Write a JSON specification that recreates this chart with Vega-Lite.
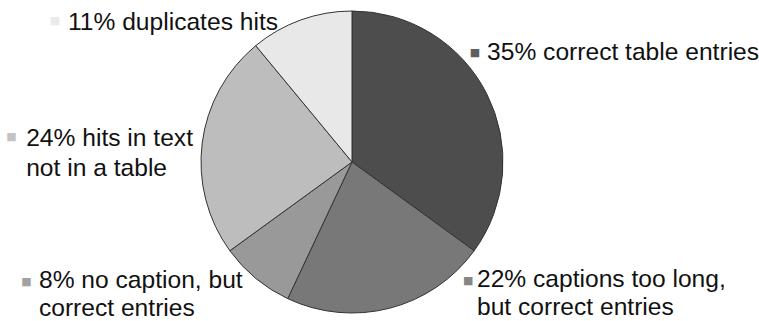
{
  "$schema": "https://vega.github.io/schema/vega-lite/v6.json",
  "width": 704,
  "height": 318,
  "autosize": {"type": "none"},
  "padding": {"left": 0, "top": 3, "right": 55, "bottom": 0},
  "background": "white",
  "config": {"view": {"stroke": null}},
  "data": {
    "values": [
      {"category": "correct table entries", "value": 35, "order": 1, "label": "35% correct table entries"},
      {"category": "captions too long", "value": 22, "order": 2, "label": "22% captions too long,\nbut correct entries"},
      {"category": "no caption", "value": 8, "order": 3, "label": "8% no caption, but\ncorrect entries"},
      {"category": "hits in text", "value": 24, "order": 4, "label": "24% hits in text\nnot in a table"},
      {"category": "duplicates hits", "value": 11, "order": 5, "label": "11% duplicates hits"}
    ]
  },
  "transform": [
    {"stack": "value", "groupby": [], "sort": [{"field": "order", "order": "ascending"}], "as": ["v0", "v1"]},
    {"calculate": "(datum.v0 + datum.v1) / 2", "as": "mid"}
  ],
  "layer": [
    {
      "mark": {"type": "arc", "outerRadius": 151, "stroke": "#333333", "strokeWidth": 1},
      "encoding": {
        "theta": {"field": "v0", "type": "quantitative", "stack": null, "scale": {"domain": [0, 100]}},
        "theta2": {"field": "v1"},
        "color": {
          "field": "category", "type": "nominal", "legend": null,
          "scale": {
            "domain": ["correct table entries", "captions too long", "no caption", "hits in text", "duplicates hits"],
            "range": ["#4d4d4d", "#787878", "#999999", "#bdbdbd", "#e8e8e8"]
          }
        }
      }
    },
    {
      "transform": [{"filter": "datum.order == 1"}],
      "encoding": {"theta": {"field": "mid", "type": "quantitative", "stack": null}},
      "layer": [
        {"mark": {"type": "text", "text": "■", "radius": 151, "dx": -11.5, "dy": -40.9, "align": "center", "baseline": "middle", "fontSize": 11, "font": "DejaVu Sans", "opacity": 0.9},
         "encoding": {"color": {"field": "category", "type": "nominal", "legend": null}}},
        {"mark": {"type": "text", "radius": 151, "dx": 0.5, "dy": -33.4, "align": "left", "baseline": "alphabetic", "fontSize": 24.6, "font": "Liberation Sans", "lineBreak": "\n", "lineHeight": 29, "color": "#111111"},
         "encoding": {"text": {"field": "label"}}}
      ]
    },
    {
      "transform": [{"filter": "datum.order == 2"}],
      "encoding": {"theta": {"field": "mid", "type": "quantitative", "stack": null}},
      "layer": [
        {"mark": {"type": "text", "text": "■", "radius": 151, "dx": 78.7, "dy": -26.8, "align": "center", "baseline": "middle", "fontSize": 11, "font": "DejaVu Sans", "opacity": 0.9},
         "encoding": {"color": {"field": "category", "type": "nominal", "legend": null}}},
        {"mark": {"type": "text", "radius": 151, "dx": 87.4, "dy": -21.3, "align": "left", "baseline": "alphabetic", "fontSize": 24.6, "font": "Liberation Sans", "lineBreak": "\n", "lineHeight": 28, "color": "#111111"},
         "encoding": {"text": {"field": "label"}}}
      ]
    },
    {
      "transform": [{"filter": "datum.order == 3"}],
      "encoding": {"theta": {"field": "mid", "type": "quantitative", "stack": null}},
      "layer": [
        {"mark": {"type": "text", "text": "■", "radius": 151, "dx": -229.3, "dy": 3.2, "align": "center", "baseline": "middle", "fontSize": 11, "font": "DejaVu Sans", "opacity": 0.9},
         "encoding": {"color": {"field": "category", "type": "nominal", "legend": null}}},
        {"mark": {"type": "text", "radius": 151, "dx": -216.8, "dy": 9.7, "align": "left", "baseline": "alphabetic", "fontSize": 24.6, "font": "Liberation Sans", "lineBreak": "\n", "lineHeight": 28, "color": "#111111"},
         "encoding": {"text": {"field": "label"}}}
      ]
    },
    {
      "transform": [{"filter": "datum.order == 4"}],
      "encoding": {"theta": {"field": "mid", "type": "quantitative", "stack": null}},
      "layer": [
        {"mark": {"type": "text", "text": "■", "radius": 151, "dx": -190.7, "dy": -6.1, "align": "center", "baseline": "middle", "fontSize": 11, "font": "DejaVu Sans", "opacity": 0.9},
         "encoding": {"color": {"field": "category", "type": "nominal", "legend": null}}},
        {"mark": {"type": "text", "radius": 151, "dx": -176, "dy": 3, "align": "left", "baseline": "alphabetic", "fontSize": 24.6, "font": "Liberation Sans", "lineBreak": "\n", "lineHeight": 30, "color": "#111111"},
         "encoding": {"text": {"field": "label"}}}
      ]
    },
    {
      "transform": [{"filter": "datum.order == 5"}],
      "encoding": {"theta": {"field": "mid", "type": "quantitative", "stack": null}},
      "layer": [
        {"mark": {"type": "text", "text": "■", "radius": 151, "dx": -245.9, "dy": 0.6, "align": "center", "baseline": "middle", "fontSize": 11, "font": "DejaVu Sans", "opacity": 0.9},
         "encoding": {"color": {"field": "category", "type": "nominal", "legend": null}}},
        {"mark": {"type": "text", "radius": 151, "dx": -232.9, "dy": 10, "align": "left", "baseline": "alphabetic", "fontSize": 24.6, "font": "Liberation Sans", "lineBreak": "\n", "lineHeight": 29, "color": "#111111"},
         "encoding": {"text": {"field": "label"}}}
      ]
    }
  ]
}
